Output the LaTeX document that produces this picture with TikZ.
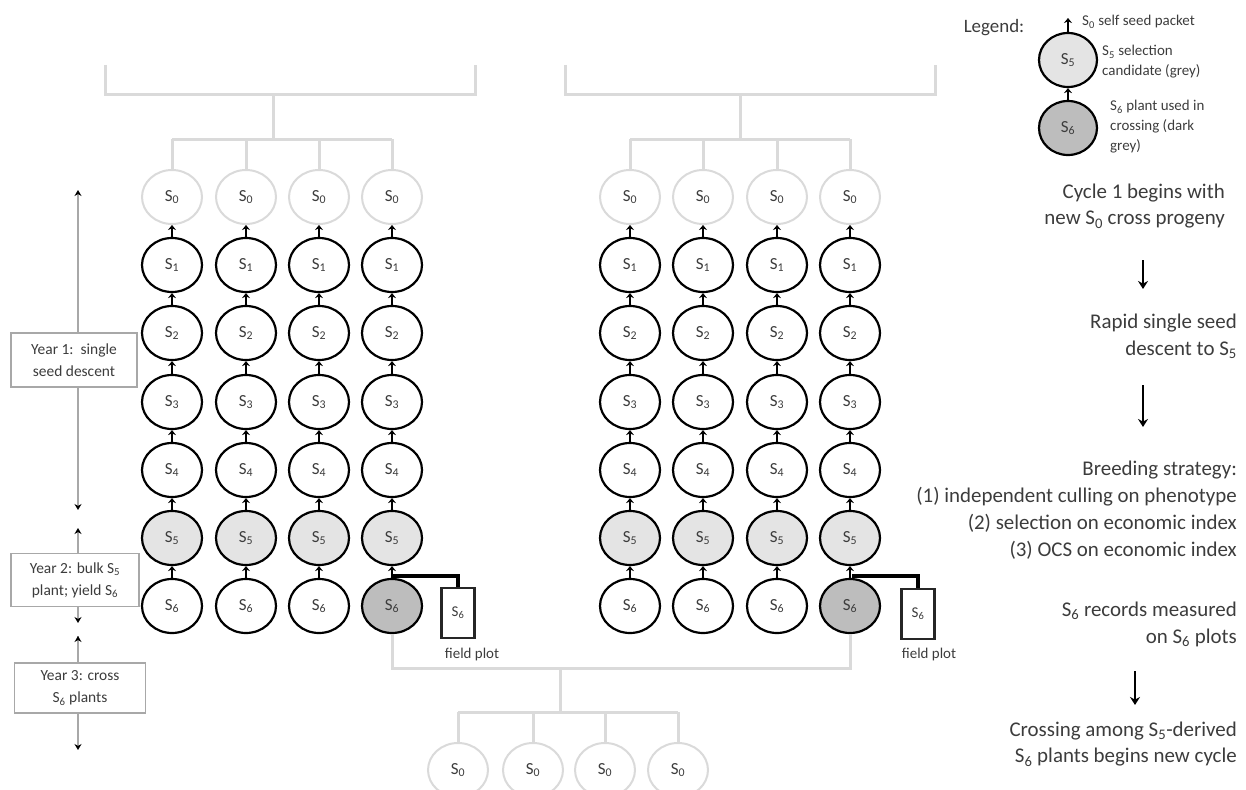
\documentclass[tikz,border=0pt]{standalone}
\usepackage{fontspec}
\setmainfont{Carlito}
\usetikzlibrary{shapes.geometric,arrows.meta}
\definecolor{lgline}{HTML}{DADADA}
\definecolor{selgray}{HTML}{E4E4E4}
\definecolor{crossgray}{HTML}{BDBDBD}
\definecolor{tgray}{HTML}{A8A8A8}
\definecolor{txt}{HTML}{3C3C3C}
\begin{document}
\begin{tikzpicture}[x=1bp,y=-1bp,
  plant/.style={ellipse,draw=black,line width=2.2bp,minimum width=60bp,minimum height=54bp,inner sep=0pt,fill=white,font=\fontsize{17}{18}\selectfont,text=txt},
  seedplant/.style={plant,draw=lgline,line width=2bp},
  selplant/.style={plant,fill=selgray},
  crossplant/.style={plant,fill=crossgray},
  link/.style={line width=2.8bp,-{Stealth[length=5bp,width=8bp]}},
  bracket/.style={draw=lgline,line width=3bp},
  tline/.style={draw=tgray,line width=2.2bp},
  tarrows/.style={tline,{Stealth[length=6bp,width=7bp,color=black]}-{Stealth[length=6bp,width=7bp,color=black]}},
  yearbox/.style={draw=tgray,line width=1.8bp,fill=white,inner sep=0pt,align=center,font=\fontsize{15.5}{22}\selectfont,text=txt},
  plotbox/.style={draw=black!85,line width=2.6bp,fill=white,minimum width=33bp,minimum height=50bp,inner sep=0pt,font=\fontsize{15}{16}\selectfont,text=txt},
  plotlink/.style={draw=black,line width=3.2bp},
  small/.style={font=\fontsize{15}{17}\selectfont,text=txt,inner sep=0pt},
  legtext/.style={font=\fontsize{15}{20}\selectfont,text=txt,inner sep=0pt,align=left},
  side/.style={font=\fontsize{21}{27}\selectfont,text=txt,inner sep=0pt,align=right,anchor=east},
  bigarrow/.style={line width=2.6bp,-{Stealth[length=8bp,width=10bp]}}
]
\useasboundingbox (0,0) rectangle (1246,790);

% ---------- columns of plants ----------
\foreach \n/\x/\st in {L1/172/plant,L2/246/plant,L3/319/plant,L4/392/crossplant,R1/630/plant,R2/703/plant,R3/777/plant,R4/850/crossplant}{
  \node[seedplant] (\n-0) at (\x,197) {S\textsubscript{0}};
  \foreach \r/\y in {1/265,2/333,3/402,4/470}
    \node[plant] (\n-\r) at (\x,\y) {S\textsubscript{\r}};
  \node[selplant] (\n-5) at (\x,538) {S\textsubscript{5}};
  \node[\st] (\n-6) at (\x,606) {S\textsubscript{6}};
  \foreach \r/\p in {1/0,2/1,3/2,4/3,5/4,6/5}
    \draw[link] (\n-\r) -- (\n-\p);
}

% ---------- top brackets ----------
\coordinate (hL) at (0,139);
\coordinate (tLa) at (105,65);
\coordinate (tLb) at (475,65);
\coordinate (tLm) at (273,95);
\draw[bracket] (tLa) |- (tLm) -| (tLb);
\draw[bracket] (tLm) -- (tLm |- hL);
\draw[bracket] (L1-0.north |- hL) -- (L4-0.north |- hL);
\foreach \c in {1,2,3,4} \draw[bracket] (L\c-0.north |- hL) -- (L\c-0.north);

\coordinate (tRa) at (565,65);
\coordinate (tRb) at (935,65);
\coordinate (tRm) at (740,95);
\draw[bracket] (tRa) |- (tRm) -| (tRb);
\draw[bracket] (tRm) -- (tRm |- hL);
\draw[bracket] (R1-0.north |- hL) -- (R4-0.north |- hL);
\foreach \c in {1,2,3,4} \draw[bracket] (R\c-0.north |- hL) -- (R\c-0.north);

% ---------- field plots ----------
\node[plotbox] (F1) at (458,613) {S\textsubscript{6}};
\node[small] (F1l) at (472,655) {field plot};
\coordinate (J1) at (392,576);
\draw[plotlink] (J1) -| (F1.north);

\node[plotbox] (F2) at (918,614) {S\textsubscript{6}};
\node[small] (F2l) at (929,655) {field plot};
\coordinate (J2) at (852,576);
\draw[plotlink] (J2) -| (F2.north);

% ---------- bottom crossing ----------
\coordinate (hB) at (560,668);
\coordinate (hC) at (560,712);
\draw[bracket] (L4-6.south) -- (L4-6.south |- hB) -- (R4-6.south |- hB) -- (R4-6.south);
\draw[bracket] (hB) -- (hC);
\foreach \c/\x in {1/458,2/533,3/605,4/678}
  \node[seedplant] (B\c) at (\x,770) {S\textsubscript{0}};
\draw[bracket] (B1.north |- hC) -- (B4.north |- hC);
\foreach \c in {1,2,3,4} \draw[bracket] (B\c.north |- hC) -- (B\c.north);

% ---------- timeline ----------
\coordinate (y1a) at (78,190);
\coordinate (y1b) at (78,510);
\coordinate (y2a) at (78,528);
\coordinate (y2b) at (78,623);
\coordinate (y3a) at (78,636);
\coordinate (y3b) at (78,750);
\draw[tarrows] (y1b) -- (y1a);
\draw[tarrows] (y2b) -- (y2a);
\draw[tline,-{Stealth[length=6bp,width=7bp,color=black]}] (y3a) -- (y3b);
\draw[tline,{Stealth[length=6bp,width=7bp,color=black]}-] (y3a) -- ++(0,4);
\node[yearbox,minimum width=126bp,minimum height=54bp] (Y1) at (74,360) {Year 1:\ \ single\\seed descent};
\node[yearbox,minimum width=128bp,minimum height=53bp] (Y2) at (75,580) {Year 2: bulk S\textsubscript{5}\\plant; yield S\textsubscript{6}};
\node[yearbox,minimum width=131bp,minimum height=50bp] (Y3) at (80,688) {Year 3: cross\\S\textsubscript{6} plants};

% ---------- legend ----------
\node[font=\fontsize{19}{20}\selectfont,text=txt,inner sep=0pt] (leg) at (994,28) {Legend:};
\node[selplant,minimum width=58bp,minimum height=54bp] (G1) at (1068,60) {S\textsubscript{5}};
\node[crossplant,minimum width=58bp,minimum height=54bp] (G2) at (1068,128) {S\textsubscript{6}};
\coordinate (G0) at (1068,18);
\draw[link] (G1) -- (G0);
\draw[link] (G2) -- (G1);
\node[legtext,anchor=west] (Lt0) at (1082,22) {S\textsubscript{0} self seed packet};
\node[legtext,anchor=west] (Lt1) at (1102,62) {S\textsubscript{5} selection\\candidate (grey)};
\node[legtext,anchor=west] (Lt2) at (1110,127) {S\textsubscript{6} plant used in\\crossing (dark\\grey)};

% ---------- right-hand description ----------
\node[side] (T1) at (1225,206) {Cycle 1 begins with\\new S\textsubscript{0} cross progeny};
\node[side] (T2) at (1237,336) {Rapid single seed\\descent to S\textsubscript{5}};
\node[side] (T3) at (1237,510) {Breeding strategy:\\(1) independent culling on phenotype\\(2) selection on economic index\\(3) OCS on economic index};
\node[side] (T4) at (1237,624) {S\textsubscript{6} records measured\\on S\textsubscript{6} plots};
\node[side] (T5) at (1237,744) {Crossing among S\textsubscript{5}-derived\\S\textsubscript{6} plants begins new cycle};
\coordinate (a1s) at (1143,260);
\coordinate (a1e) at (1143,289);
\coordinate (a2s) at (1143,385);
\coordinate (a2e) at (1143,427);
\coordinate (a3s) at (1135,671);
\coordinate (a3e) at (1135,705);
\draw[bigarrow] (a1s) -- (a1e);
\draw[bigarrow] (a2s) -- (a2e);
\draw[bigarrow] (a3s) -- (a3e);
\end{tikzpicture}
\end{document}
